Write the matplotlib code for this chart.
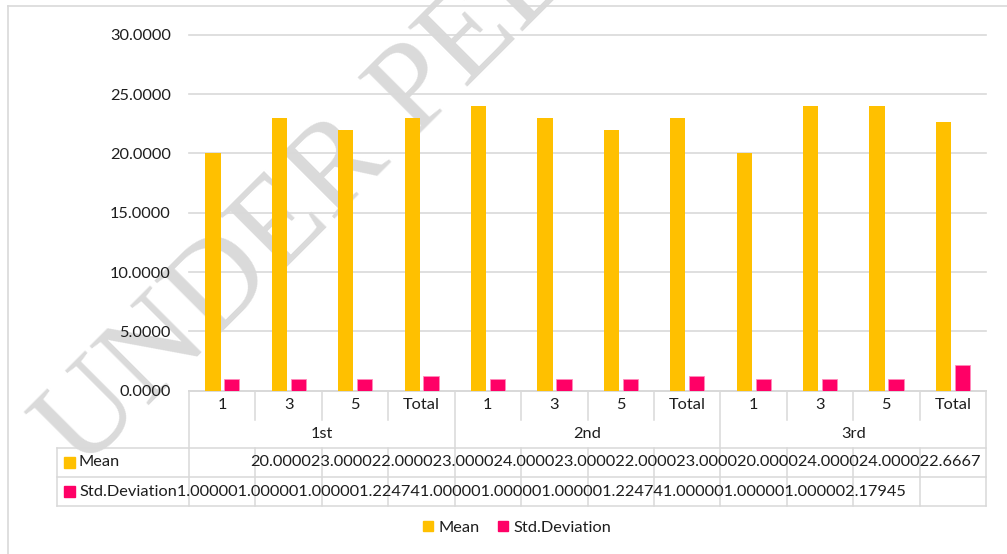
import matplotlib
matplotlib.use("Agg")
import matplotlib.pyplot as plt
from matplotlib.patches import Patch, Rectangle
from matplotlib.lines import Line2D
from matplotlib.transforms import blended_transform_factory
import numpy as np

# ---- data ----
groups = ["1st", "2nd", "3rd"]
sub_labels = ["1", "3", "5", "Total"]
mean_vals = [20.0, 23.0, 22.0, 23.0, 24.0, 23.0, 22.0, 23.0, 20.0, 24.0, 24.0, 22.6667]
std_vals = [1.0, 1.0, 1.0, 1.22474, 1.0, 1.0, 1.0, 1.22474, 1.0, 1.0, 1.0, 2.17945]
y_ticks = [0, 5, 10, 15, 20, 25, 30]
series_names = ["Mean", "Std.Deviation"]

# ---- style ----
MEAN_COLOR = "#FFC000"
STD_COLOR = "#FF0066"
LINE = "#D9D9D9"
TEXT = "#1E1E1E"
FS = 11.8

plt.rcParams["font.family"] = ["Lato", "DejaVu Sans"]

W, H = 1007, 554
fig = plt.figure(figsize=(W / 100, H / 100), dpi=100)


def fx(px):
    return px / W


def fy(py):
    return 1 - py / H


# chart frame (left and top edges)
fig.add_artist(Line2D([fx(8), fx(8)], [fy(6), 0], transform=fig.transFigure, color=LINE, lw=1.2))
fig.add_artist(Line2D([fx(8), 1], [fy(6), fy(6)], transform=fig.transFigure, color=LINE, lw=1.2))

# watermark
fig.text(fx(82), fy(473), "UNDER PEER REVIEW", rotation=45, rotation_mode="anchor",
         ha="left", va="baseline", fontsize=92, family=["Liberation Serif", "DejaVu Serif"],
         color="#DADADA", zorder=-1)

ax = fig.add_axes([fx(189), fy(390.7), fx(986) - fx(189), fy(34.7) - fy(390.7)])
ax.patch.set_visible(False)

n = len(mean_vals)
x = np.arange(n)
bw = 0.23
ax.bar(x - 0.14, mean_vals, bw, color=MEAN_COLOR, zorder=3)
ax.bar(x + 0.145, std_vals, bw, color=STD_COLOR, edgecolor="#FF8CBB", linewidth=0.6, zorder=3)

ax.set_xlim(-0.5, n - 0.5)
ax.set_ylim(0, 30)
ax.set_yticks(y_ticks)
ax.set_yticklabels([f"{v:.4f}" for v in y_ticks])
ax.tick_params(axis="y", length=0, pad=13, labelsize=FS, labelcolor=TEXT)
ax.set_xticks([])
ax.grid(axis="y", color=LINE, lw=1.2, zorder=0)
for gl in ax.get_ygridlines():
    gl.set_clip_on(False)
for s in ["top", "right", "left"]:
    ax.spines[s].set_visible(False)
ax.spines["bottom"].set_color(LINE)
ax.spines["bottom"].set_linewidth(1.4)

# ---- data table below the plot ----
trans = blended_transform_factory(ax.transData, fig.transFigure)
r0, r1, r2, r3, r4 = 390.7, 420, 448, 477, 506
lw_t = 1.1

# category cell borders
for k in range(n + 1):
    xb = k - 0.5
    if k % 4 == 0:
        ax.plot([xb, xb], [fy(r0), fy(r4)], transform=trans, color=LINE, lw=lw_t, clip_on=False)
    else:
        ax.plot([xb, xb], [fy(r0), fy(r1)], transform=trans, color=LINE, lw=lw_t, clip_on=False)
        ax.plot([xb, xb], [fy(r2), fy(r4)], transform=trans, color=LINE, lw=lw_t, clip_on=False)

# series rows borders
for ry in (r2, r3, r4):
    fig.add_artist(Line2D([fx(57), fx(986)], [fy(ry), fy(ry)], transform=fig.transFigure,
                          color=LINE, lw=lw_t))
fig.add_artist(Line2D([fx(57), fx(57)], [fy(r2), fy(r4)], transform=fig.transFigure,
                      color=LINE, lw=lw_t))

# category labels
for i in range(n):
    ax.text(i, fy((r0 + r1) / 2), sub_labels[i % len(sub_labels)], transform=trans,
            ha="center", va="center", fontsize=FS, color=TEXT, clip_on=False)
for g, name in enumerate(groups):
    ax.text(4 * g + 1.5, fy((r1 + r2) / 2), name, transform=trans,
            ha="center", va="center", fontsize=FS, color=TEXT, clip_on=False)

# series rows: key squares, names and values
for (ry_top, ry_bot), color in zip([(r2, r3), (r3, r4)], [MEAN_COLOR, STD_COLOR]):
    cy = (ry_top + ry_bot) / 2
    fig.add_artist(Rectangle((fx(64), fy(cy + 5.5)), fx(11), 11 / H,
                             transform=fig.transFigure, color=color))

mean_text = "".join(f"{v:.4f}" for v in mean_vals)
std_text = "".join(f"{v:.5f}" for v in std_vals)
fig.text(fx(79), fy((r2 + r3) / 2), series_names[0], ha="left", va="center",
         fontsize=FS, color=TEXT)
fig.text(fx(981), fy((r2 + r3) / 2), mean_text, ha="right", va="center",
         fontsize=FS, color=TEXT)
fig.text(fx(79), fy((r3 + r4) / 2), series_names[1] + std_text, ha="left", va="center",
         fontsize=FS, color=TEXT)

# legend
handles = [Patch(color=MEAN_COLOR, label=series_names[0]),
           Patch(color=STD_COLOR, label=series_names[1])]
fig.legend(handles=handles, loc="center", bbox_to_anchor=(fx(517), fy(528)), ncol=2,
           frameon=False, fontsize=FS, labelcolor=TEXT, handlelength=0.6,
           handleheight=0.6, handletextpad=0.35, columnspacing=1.1)

fig.savefig("out.png", dpi=100)
